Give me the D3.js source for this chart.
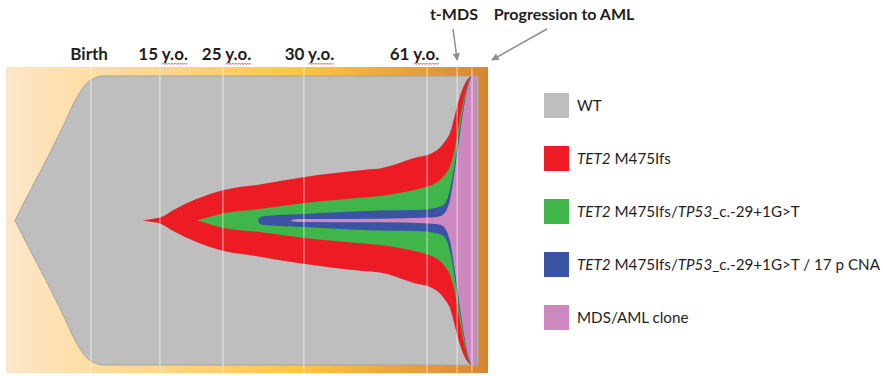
<!DOCTYPE html>
<html>
<head>
<meta charset="utf-8">
<script src="https://cdn.jsdelivr.net/npm/d3@7"></script>
<style>
  body { margin: 0; background: #fff; }
  text { font-family: Lato, "Open Sans", sans-serif; fill: #1e1e1e; }
</style>
</head>
<body>
<div id="chart"></div>
<script>
// timeline position (0 = first cell, 100 = end of follow-up) and clone size (fraction of cells, incl. subclones)
var wtTime   = [0, 3.5, 7.1, 10.5, 13.5, 15.5, 17.2, 19.0, 100];
var wtFrac   = [0, 0.22, 0.44, 0.66, 0.86, 0.95, 0.985, 1, 1];

var tet2Time = [27.6, 29.6, 31.3, 34.6, 39.3, 44.9, 52.9, 62.2, 75.2, 78.8, 86.0, 90.3, 91.8, 92.9, 94.0, 95.0, 96.1, 97.2, 98.3, 98.7, 99.6];
var tet2Frac = [0, 0.01, 0.02, 0.08, 0.15, 0.21, 0.25, 0.30, 0.35, 0.36, 0.43, 0.47, 0.505, 0.55, 0.61, 0.73, 0.86, 0.95, 0.995, 1, 1];

var tp53Time = [39.3, 41.0, 44.9, 52.9, 62.2, 75.2, 78.8, 86.0, 88.5, 90.3, 91.8, 92.9, 94.0, 95.0, 96.1, 97.2, 98.3, 98.7, 99.6];
var tp53Frac = [0, 0.015, 0.05, 0.08, 0.12, 0.16, 0.17, 0.21, 0.23, 0.25, 0.28, 0.32, 0.38, 0.50, 0.70, 0.88, 0.99, 1, 1];

var cnaTime  = [52.5, 52.8, 54.0, 62.2, 78.8, 88.5, 90.3, 91.8, 92.9, 94.0, 95.0, 96.1, 97.2, 98.3, 98.7, 99.6];
var cnaFrac  = [0, 0.02, 0.032, 0.045, 0.07, 0.075, 0.085, 0.095, 0.12, 0.22, 0.40, 0.64, 0.85, 0.985, 1, 1];

var amlTime  = [59.4, 60.9, 78.8, 89.6, 91.8, 92.9, 94.0, 95.0, 96.1, 97.2, 98.3, 98.7, 99.6];
var amlFrac  = [0, 0.01, 0.012, 0.02, 0.03, 0.055, 0.15, 0.35, 0.60, 0.83, 0.975, 1, 1];

var cloneNames  = ["WT", "TET2 M475Ifs", "TET2 M475Ifs/TP53_c.-29+1G>T", "TET2 M475Ifs/TP53_c.-29+1G>T / 17 p CNA", "MDS/AML clone"];
var cloneColors = ["#bebebe", "#ed1c24", "#3fb54a", "#3a53a4", "#cd89bf"];

var eventTimes = [16.4, 31.3, 44.9, 62.4, 89.0, 95.5, 98.7];
var ageLabels  = ["Birth", "15 y.o.", "25 y.o.", "30 y.o.", "61 y.o."];
var agePos     = [16.0, 32.0, 45.7, 63.6, 86.3];
var noteLabels = ["t-MDS", "Progression to AML"];
var notePos    = [94.8, 118.6];
var arrowFrom  = [94.6, 114.9];
var arrowTo    = [95.5, 103.0];

var width = 883, height = 376;
var frame = { left: 6, right: 488, top: 67, bottom: 373 };

var svg = d3.select("#chart").append("svg")
  .attr("width", width)
  .attr("height", height);

var defs = svg.append("defs");
var grad = defs.append("linearGradient").attr("id", "bg").attr("x1", "0").attr("x2", "1").attr("y1", "0").attr("y2", "0");
[["0%", "#fde7cb"], ["18%", "#fedda2"], ["33%", "#fed588"], ["61%", "#fec63f"], ["88%", "#e7993a"], ["100%", "#d98530"]]
  .forEach(function (s) { grad.append("stop").attr("offset", s[0]).attr("stop-color", s[1]); });

defs.append("marker")
  .attr("id", "arrow")
  .attr("viewBox", "0 0 10 10")
  .attr("refX", 9).attr("refY", 5)
  .attr("markerWidth", 5).attr("markerHeight", 5)
  .attr("orient", "auto")
  .append("path")
  .attr("d", "M0,0L10,5L0,10z")
  .attr("fill", "#8f8f8f");

// background band
svg.append("rect")
  .attr("x", frame.left).attr("y", frame.top)
  .attr("width", frame.right - frame.left)
  .attr("height", frame.bottom - frame.top)
  .attr("fill", "url(#bg)");

var x = d3.scaleLinear().domain([0, 100]).range([frame.left + 9, frame.right - 10]);
var y = d3.scaleLinear().domain([-0.5, 0.5]).range([frame.bottom - 8, frame.top + 9]);

var area = d3.area()
  .x(function (d) { return x(d.t); })
  .y0(function (d) { return y(-d.f / 2); })
  .y1(function (d) { return y(d.f / 2); })
  .curve(d3.curveMonotoneX);

var clones = [[wtTime, wtFrac], [tet2Time, tet2Frac], [tp53Time, tp53Frac], [cnaTime, cnaFrac], [amlTime, amlFrac]];

clones.forEach(function (c, i) {
  var pts = c[0].map(function (t, k) { return { t: t, f: c[1][k] }; });
  svg.append("path")
    .datum(pts)
    .attr("fill", cloneColors[i])
    .attr("stroke", i == 0 ? "#a3a3a3" : "none")
    .attr("stroke-width", 1)
    .attr("d", area);
});

// white event lines on top
svg.selectAll(".event")
  .data(eventTimes)
  .enter().append("line")
  .attr("class", "event")
  .attr("x1", function (d) { return x(d); })
  .attr("x2", function (d) { return x(d); })
  .attr("y1", frame.top)
  .attr("y2", frame.bottom)
  .attr("stroke", "#ffffff")
  .attr("stroke-opacity", 0.55)
  .attr("stroke-width", 1.2);

// age labels
var ages = svg.selectAll(".age")
  .data(ageLabels)
  .enter().append("text")
  .attr("class", "age")
  .attr("x", function (d, i) { return x(agePos[i]); })
  .attr("y", 60)
  .attr("text-anchor", "middle")
  .attr("font-weight", "bold")
  .attr("font-size", 17)
  .text(function (d) { return d; });

// spell-check squiggle under "y.o."
ages.each(function (d) {
  var k = d.indexOf("y.o.");
  if (k < 0) return;
  var a = this.getStartPositionOfChar(k).x;
  var b = this.getEndPositionOfChar(k + 3).x;
  var pts = [];
  for (var px = a, j = 0; px <= b; px += 1.5, j++) pts.push([px, j % 2 ? 63 : 64.5]);
  svg.append("path")
    .attr("d", d3.line()(pts))
    .attr("fill", "none")
    .attr("stroke", "#e0393e")
    .attr("stroke-width", 0.8);
});

// annotations
svg.selectAll(".note")
  .data(noteLabels)
  .enter().append("text")
  .attr("class", "note")
  .attr("x", function (d, i) { return x(notePos[i]); })
  .attr("y", 20)
  .attr("text-anchor", "middle")
  .attr("font-weight", "bold")
  .attr("font-size", 16)
  .text(function (d) { return d; });

svg.selectAll(".arrow")
  .data(arrowFrom)
  .enter().append("line")
  .attr("x1", function (d) { return x(d); })
  .attr("y1", 29)
  .attr("x2", function (d, i) { return x(arrowTo[i]); })
  .attr("y2", 60)
  .attr("stroke", "#8f8f8f")
  .attr("stroke-width", 1.5)
  .attr("marker-end", "url(#arrow)");

// legend
var legend = svg.append("g").attr("transform", "translate(544,93)");
var item = legend.selectAll(".item")
  .data(cloneNames)
  .enter().append("g")
  .attr("transform", function (d, i) { return "translate(0," + i * 53 + ")"; });

item.append("rect")
  .attr("width", 25).attr("height", 25)
  .attr("fill", function (d, i) { return cloneColors[i]; });

var labels = item.append("text")
  .attr("x", 33)
  .attr("y", 18)
  .attr("font-size", 16)
  .each(function (d) {
    var t = d3.select(this);
    d.split(/(TET2|TP53)/).forEach(function (part) {
      if (!part) return;
      t.append("tspan")
        .attr("font-style", part == "TET2" || part == "TP53" ? "italic" : "normal")
        .text(part);
    });
  });

// shrink legend font so the longest label ends at the window edge
var longest = d3.max(labels.nodes(), function (n) { return n.getComputedTextLength(); });
if (longest > 303) labels.attr("font-size", 16 * 303 / longest);
</script>
</body>
</html>
